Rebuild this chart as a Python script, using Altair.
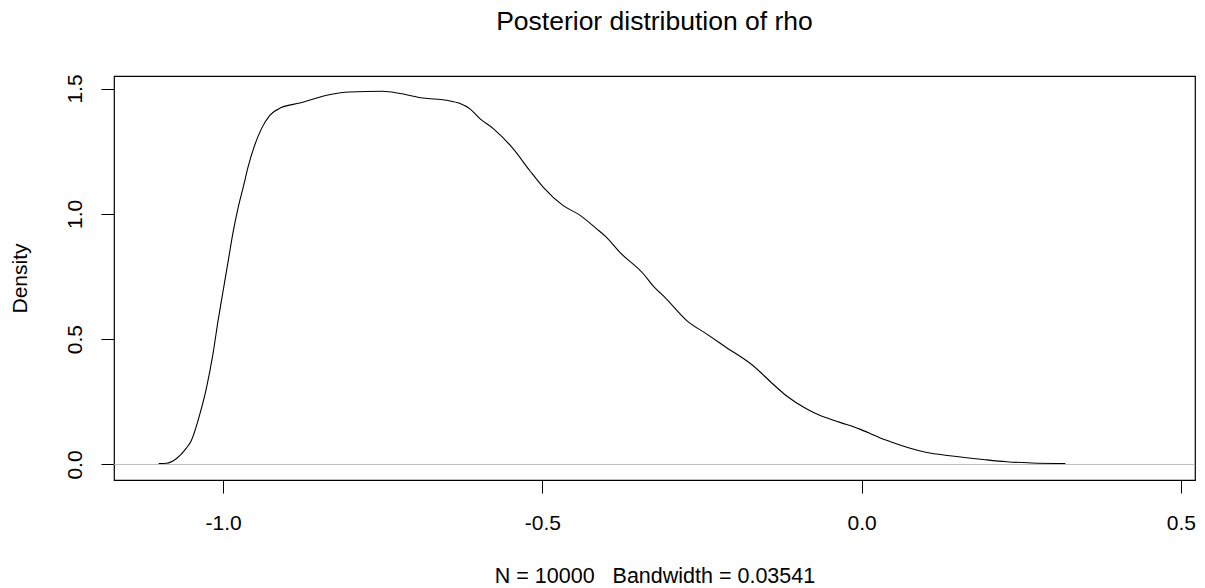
import altair as alt
import pandas as pd

rho = [-1.101, -1.089, -1.073, -1.058, -1.050, -1.037, -1.026, -1.016, -1.008, -1.000,
       -0.992, -0.985, -0.977, -0.968, -0.961, -0.952, -0.940, -0.927, -0.909, -0.880,
       -0.838, -0.802, -0.750, -0.723, -0.687, -0.650, -0.629, -0.614, -0.598, -0.577,
       -0.546, -0.520, -0.499, -0.468, -0.441, -0.415, -0.400, -0.379, -0.342, -0.327,
       -0.306, -0.274, -0.243, -0.212, -0.170, -0.139, -0.118, -0.086, -0.065, -0.034,
       -0.003, 0.013, 0.029, 0.044, 0.076, 0.102, 0.138, 0.190, 0.227, 0.266, 0.319]
density = [0.004, 0.005, 0.024, 0.064, 0.095, 0.197, 0.308, 0.441, 0.574, 0.694,
           0.814, 0.920, 1.020, 1.113, 1.187, 1.264, 1.340, 1.393, 1.424, 1.442,
           1.473, 1.486, 1.489, 1.480, 1.462, 1.453, 1.440, 1.420, 1.380, 1.340,
           1.260, 1.173, 1.107, 1.034, 0.994, 0.940, 0.907, 0.847, 0.761, 0.714,
           0.661, 0.574, 0.521, 0.467, 0.394, 0.321, 0.274, 0.221, 0.195, 0.168,
           0.141, 0.124, 0.106, 0.092, 0.065, 0.048, 0.035, 0.020, 0.011, 0.006, 0.004]
x_ticks = [-1.0, -0.5, 0.0, 0.5]
y_ticks = [0.0, 0.5, 1.0, 1.5]
zero_line = [0.0]
title_text = ["Posterior distribution of rho"]
x_title = "N = 10000\u00a0\u00a0\u00a0Bandwidth = 0.03541"

FONT = "Liberation Sans"
W, H = 1081, 404

df = pd.DataFrame({"rho": rho, "density": density})
zdf = pd.DataFrame({"z": zero_line})
tdf = pd.DataFrame({"t": title_text})

xscale = alt.Scale(domain=[-1.171, 0.522], nice=False, zero=False)
yscale = alt.Scale(domain=[-0.062, 1.55], nice=False, zero=False)
HYPHEN = "replace(datum.label, '\u2212', '-')"

zero = alt.Chart(zdf).mark_rule(color="#bebebe", strokeWidth=1).encode(
    y=alt.Y("z:Q", scale=yscale)
)

line = alt.Chart(df).mark_line(color="black", strokeWidth=1.1, interpolate="monotone").encode(
    x=alt.X("rho:Q", scale=xscale,
            axis=alt.Axis(values=x_ticks, format=".1f", labelExpr=HYPHEN,
                          title=x_title,
                          domain=False, grid=False, tickSize=13, tickColor="black",
                          labelFont=FONT, labelFontSize=21, labelColor="black",
                          labelBaseline="middle", labelPadding=30, labelFlush=False,
                          titleFont=FONT, titleFontSize=21.5, titleFontWeight="normal",
                          titleColor="black", titleBaseline="middle",
                          titleX=W / 2, titleY=96, titleAnchor="middle")),
    y=alt.Y("density:Q", scale=yscale,
            axis=alt.Axis(values=y_ticks, format=".1f", title="Density",
                          domain=False, grid=False, tickSize=13, tickColor="black",
                          labelFont=FONT, labelFontSize=21, labelColor="black",
                          labelAngle=270, labelAlign="center", labelBaseline="middle",
                          labelPadding=26, labelFlush=False,
                          titleFont=FONT, titleFontSize=21, titleFontWeight="normal",
                          titleColor="black", titleAngle=270, titleAlign="center",
                          titleBaseline="middle", titleX=-93.6, titleY=H / 2)),
)

title = alt.Chart(tdf).mark_text(font=FONT, fontSize=26.5, color="black",
                                 align="center", baseline="middle").encode(
    text="t:N", x=alt.value(W / 2), y=alt.value(-54)
)

chart = (zero + line + title).properties(
    width=W,
    height=H,
    background="white",
    autosize=alt.AutoSizeParams(type="none"),
    padding={"left": 106, "top": 68, "right": 2, "bottom": 106},
).configure_view(stroke="black", strokeWidth=1.2)

chart.save("out.html", embed_options={"renderer": "svg", "actions": False})
